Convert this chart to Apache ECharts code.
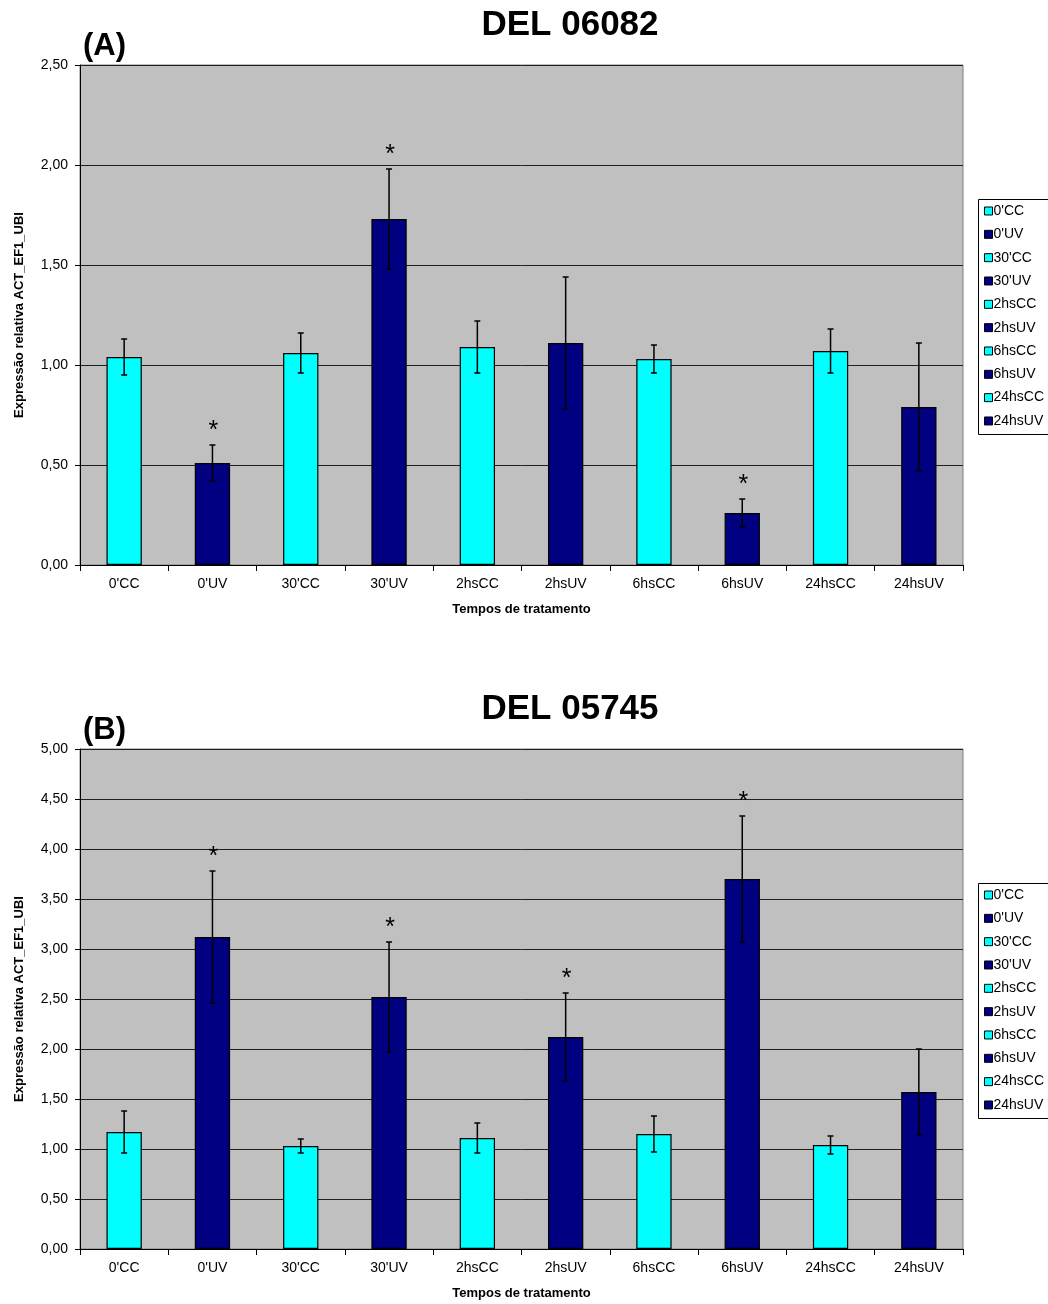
<!DOCTYPE html>
<html>
<head>
<meta charset="utf-8">
<script src="https://cdn.jsdelivr.net/npm/echarts@6/dist/echarts.min.js"></script>
<style>html,body{margin:0;padding:0;background:#fff}#c{width:1048px;height:1304px}</style>
</head>
<body>
<div id="c"></div>
<script>
const categories = ["0'CC","0'UV","30'CC","30'UV","2hsCC","2hsUV","6hsCC","6hsUV","24hsCC","24hsUV"];
// Chart A: DEL 06082
const valuesA = [1.04, 0.51, 1.06, 1.73, 1.09, 1.11, 1.03, 0.26, 1.07, 0.79];
const errA    = [0.09, 0.09, 0.10, 0.25, 0.13, 0.33, 0.07, 0.07, 0.11, 0.32];
const sigA    = [0, 1, 0, 1, 0, 0, 0, 1, 0, 0];
const ticksA  = {min: 0, max: 2.5, interval: 0.5};
// Chart B: DEL 05745
const valuesB = [1.17, 3.12, 1.03, 2.52, 1.11, 2.12, 1.15, 3.70, 1.04, 1.57];
const errB    = [0.21, 0.66, 0.07, 0.55, 0.15, 0.44, 0.18, 0.63, 0.09, 0.43];
const sigB    = [0, 1, 0, 1, 0, 1, 0, 1, 0, 0];
const ticksB  = {min: 0, max: 5, interval: 0.5};
const titles = ["DEL 06082", "DEL 05745"];
const panels = ["(A)", "(B)"];

const CYAN = '#00FFFF', NAVY = '#000080';
const FONT = 'Liberation Sans, Arial, sans-serif';
const chart = echarts.init(document.getElementById('c'), null, {renderer: 'canvas'});

const grids = [
  {left: 80, top: 65, width: 883, height: 500},
  {left: 80, top: 749, width: 883, height: 500}
];
const data = [
  {v: valuesA, e: errA, s: sigA, t: ticksA},
  {v: valuesB, e: errB, s: sigB, t: ticksB}
];

const option = {
  animation: false,
  backgroundColor: '#ffffff',
  title: [],
  grid: [],
  xAxis: [],
  yAxis: [],
  legend: [],
  series: [],
  graphic: []
};

grids.forEach((g, gi) => {
  option.grid.push(Object.assign({show: true, backgroundColor: '#C0C0C0', borderColor: '#808080', borderWidth: 1}, g));
  option.title.push({
    text: titles[gi], left: 565, top: g.top - 62, textAlign: 'center',
    textStyle: {fontFamily: FONT, fontSize: 35, fontWeight: 'bold', color: '#000'}
  });
  option.title.push({
    text: panels[gi], left: 78, top: g.top - 39,
    textStyle: {fontFamily: FONT, fontSize: 31, fontWeight: 'bold', color: '#000'}
  });
  option.xAxis.push({
    type: 'category', gridIndex: gi, data: categories,
    name: 'Tempos de tratamento', nameLocation: 'middle', nameGap: 38,
    nameTextStyle: {fontFamily: FONT, fontSize: 13, fontWeight: 'bold', color: '#000'},
    axisLine: {lineStyle: {color: '#000', width: 1}},
    axisTick: {show: true, length: 6, lineStyle: {color: '#000'}},
    axisLabel: {fontFamily: FONT, fontSize: 14, color: '#000', margin: 12},
    splitLine: {show: false}
  });
  const t = data[gi].t;
  option.yAxis.push({
    type: 'value', gridIndex: gi, min: t.min, max: t.max, interval: t.interval,
    name: 'Expressão relativa ACT_EF1_UBI', nameLocation: 'middle', nameGap: 54,
    nameTextStyle: {fontFamily: FONT, fontSize: 13, fontWeight: 'bold', color: '#000'},
    axisLine: {show: true, lineStyle: {color: '#000', width: 1}},
    axisTick: {show: true, length: 5, lineStyle: {color: '#000'}},
    axisLabel: {fontFamily: FONT, fontSize: 14, color: '#000', margin: 12,
      formatter: v => v.toFixed(2).replace('.', ',')},
    splitLine: {show: true, lineStyle: {color: '#202020', width: 1}}
  });
  // one bar series per category so the legend lists each category
  categories.forEach((c, i) => {
    const d = categories.map((_, j) => j === i ? data[gi].v[j] : null);
    option.series.push({
      type: 'bar', name: c, xAxisIndex: gi, yAxisIndex: gi, data: d,
      barWidth: '40%', barGap: '-100%',
      itemStyle: {color: i % 2 ? NAVY : CYAN, borderColor: '#000', borderWidth: 1.2}
    });
  });
  // error bars
  option.series.push({
    type: 'custom', xAxisIndex: gi, yAxisIndex: gi, z: 5,
    data: data[gi].v.map((v, i) => [i, v - data[gi].e[i], v + data[gi].e[i]]),
    renderItem: (params, api) => {
      const lo = api.coord([api.value(0), api.value(1)]);
      const hi = api.coord([api.value(0), api.value(2)]);
      const w = 3;
      const st = {stroke: '#000', lineWidth: 1.5};
      return {type: 'group', children: [
        {type: 'line', shape: {x1: hi[0], y1: hi[1], x2: lo[0], y2: lo[1]}, style: st},
        {type: 'line', shape: {x1: hi[0] - w, y1: hi[1], x2: hi[0] + w, y2: hi[1]}, style: st},
        {type: 'line', shape: {x1: lo[0] - w, y1: lo[1], x2: lo[0] + w, y2: lo[1]}, style: st}
      ]};
    }
  });
  // significance stars
  option.series.push({
    type: 'custom', xAxisIndex: gi, yAxisIndex: gi, z: 6,
    data: data[gi].v.map((v, i) => [i, v + data[gi].e[i], data[gi].s[i]]).filter(d => d[2]),
    renderItem: (params, api) => {
      const p = api.coord([api.value(0), api.value(1)]);
      return {type: 'text', x: p[0] + 1, y: p[1] - 14,
        style: {text: '*', fontFamily: FONT, fontSize: 25, fill: '#000', align: 'center', verticalAlign: 'middle'}};
    }
  });
  const lt = g.top + 132;
  option.legend.push({
    orient: 'vertical', left: 984, top: lt + 7,
    data: categories,
    icon: 'rect', itemWidth: 8, itemHeight: 8, itemGap: 9.33, itemStyle: {borderColor: '#000', borderWidth: 1},
    textStyle: {fontFamily: FONT, fontSize: 14, color: '#000', lineHeight: 14, padding: [0, 0, 0, -4]},
    padding: 0, selectedMode: false
  });
  option.graphic.push({
    type: 'rect', left: 976, top: lt, shape: {width: 80, height: 235},
    style: {fill: 'none', stroke: '#000', lineWidth: 1}
  });
});

chart.setOption(option);
</script>
</body>
</html>
